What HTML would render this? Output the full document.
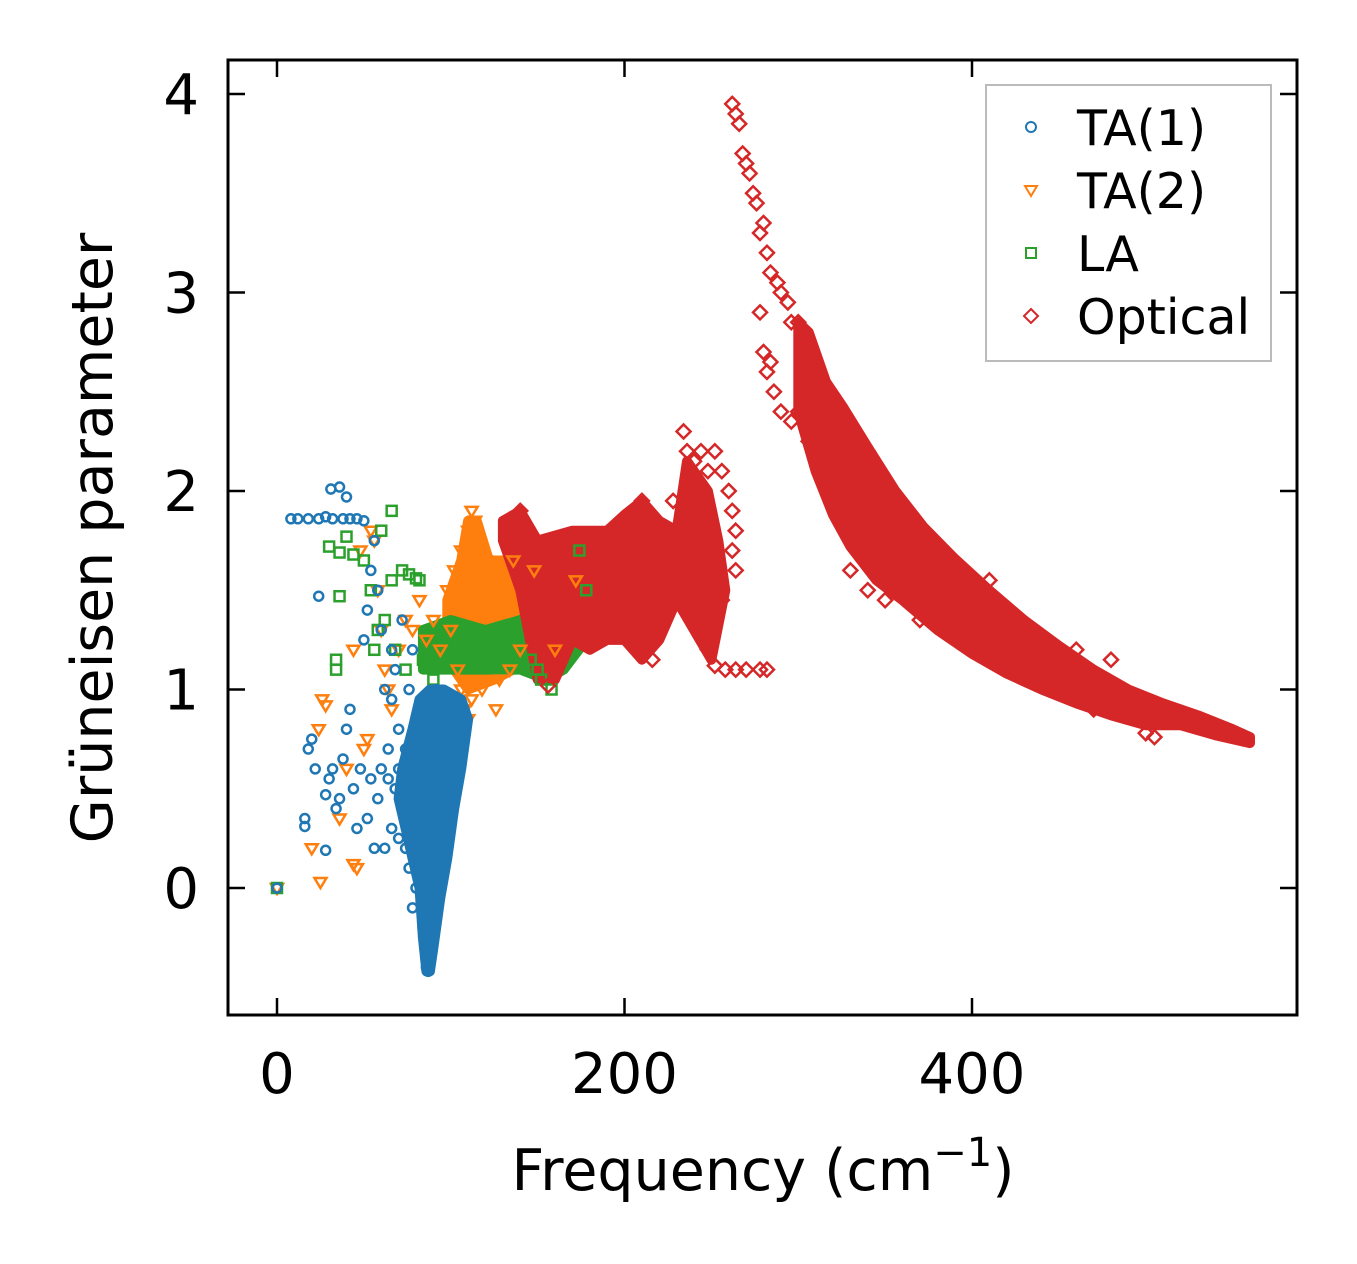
<!DOCTYPE html>
<html><head><meta charset="utf-8">
<style>
html,body{margin:0;padding:0;background:#fff;}
svg{display:block;font-family:"DejaVu Sans","Liberation Sans",sans-serif;}
</style></head>
<body>
<svg id="chart" width="1357" height="1264" viewBox="0 0 1357 1264">
<rect x="0" y="0" width="1357" height="1264" fill="#fff"/>
<g id="marks"></g>
<rect x="228" y="60" width="1069" height="955" fill="none" stroke="#000" stroke-width="3"/>
<g id="ticks"></g>
<text x="112" y="538" font-size="57" text-anchor="middle" transform="rotate(-90 112 538)">Grüneisen parameter</text>
<text x="763" y="1190" font-size="57" text-anchor="middle">Frequency (cm<tspan dy="-24" font-size="40">−1</tspan><tspan dy="24">)</tspan></text>
<g>
<rect x="986" y="85" width="285" height="276" fill="#fff" fill-opacity="0.8" stroke="#bbb" stroke-width="2"/>
<circle cx="1031" cy="127" r="5" fill="none" stroke="#1f77b4" stroke-width="2"/>
<text x="1077" y="145" font-size="49">TA(1)</text>
<path d="M1025,186 L1037,186 L1031,196 Z" fill="none" stroke="#ff7f0e" stroke-width="2"/>
<text x="1077" y="208" font-size="49">TA(2)</text>
<rect x="1026" y="248" width="10" height="10" fill="none" stroke="#2ca02c" stroke-width="2"/>
<text x="1077" y="271" font-size="49">LA</text>
<path d="M1031,309 L1038,316 L1031,323 L1024,316 Z" fill="none" stroke="#d62728" stroke-width="2"/>
<text x="1077" y="334" font-size="49">Optical</text>
</g>
</svg>
<script>
const xTicks=[0,200,400];
const yTicks=[0,1,2,3,4];
// dense-region envelopes (frequency / gamma)
const ta1Band=[[72,0.6],[78,0.8],[82,0.95],[88,1.0],[96,1.0],[106,0.95],[110,0.85],[106,0.6],[102,0.4],[98,0.15],[94,-0.05],[90,-0.3],[88,-0.42],[86,-0.42],[84,-0.25],[82,0.0],[78,0.15],[74,0.3],[70,0.45]];
const ta2Band=[[98,1.45],[106,1.65],[110,1.85],[115,1.85],[122,1.65],[135,1.65],[150,1.6],[165,1.55],[175,1.55],[175,1.35],[160,1.2],[140,1.12],[125,1.05],[110,1.0],[98,1.15]];
const laBand=[[84,1.3],[100,1.35],[120,1.3],[140,1.35],[160,1.45],[178,1.55],[178,1.25],[165,1.1],[155,1.05],[140,1.1],[120,1.1],[100,1.1],[84,1.1]];
const opt1Band=[[130,1.85],[140,1.9],[150,1.75],[170,1.8],[190,1.8],[200,1.88],[210,1.95],[220,1.85],[230,1.8],[236,2.15],[248,2.0],[254,1.75],[258,1.5],[250,1.15],[240,1.3],[230,1.45],[220,1.25],[210,1.15],[200,1.25],[190,1.25],[180,1.2],[170,1.25],[160,1.05],[150,1.05],[140,1.5],[130,1.75]];
const opt2Band=[[300,2.85],[306,2.8],[316,2.55],[326,2.42],[340,2.22],[356,2.0],[372,1.82],[390,1.66],[410,1.5],[430,1.35],[450,1.22],[470,1.1],[490,1.0],[510,0.93],[530,0.87],[550,0.8],[560,0.76],[560,0.73],[540,0.77],[520,0.82],[500,0.82],[480,0.87],[460,0.93],[440,1.0],[420,1.08],[400,1.18],[380,1.3],[360,1.45],[345,1.55],[330,1.72],[320,1.88],[310,2.1],[300,2.4]];
const ta1=[[0,0],[8,1.86],[12,1.86],[18,1.86],[24,1.86],[28,1.87],[32,1.86],[38,1.86],[42,1.86],[46,1.86],[50,1.85],[31,2.01],[36,2.02],[40,1.97],[24,1.47],[18,0.7],[20,0.75],[22,0.6],[16,0.35],[16,0.31],[28,0.19],[28,0.47],[30,0.55],[32,0.6],[34,0.4],[36,0.45],[38,0.65],[40,0.8],[42,0.9],[44,0.5],[46,0.3],[48,0.6],[50,1.25],[52,1.4],[54,1.6],[56,1.75],[58,1.5],[60,1.3],[62,1.0],[64,0.7],[66,1.2],[68,1.1],[70,0.6],[72,0.4],[74,0.2],[76,0.1],[78,-0.1],[80,0.0],
[86,-0.4],[87,-0.42],[88,-0.38],[85,-0.3],[89,-0.3],[84,-0.2],[90,-0.2],[91,-0.1],[83,0],[92,0],[82,0.1],[93,0.1],[81,0.2],[94,0.2],[80,0.3],[96,0.3],[79,0.4],[98,0.4],[78,0.5],[99,0.5],[101,0.6],[104,0.7],[106,0.8],[106,0.9],[92,1.0],[100,0.95],
[60,0.6],[64,0.55],[68,0.5],[72,0.45],[66,0.3],[70,0.25],[62,0.2],[56,0.2],[58,0.45],[54,0.55],[52,0.35],[76,0.55],[74,0.7],[70,0.8],[66,0.95],[72,1.35],[76,1.0],[78,1.2]];
const ta2=[[0,0],[25,0.03],[20,0.2],[26,0.95],[28,0.92],[24,0.8],[44,0.12],[46,0.1],[36,0.35],[40,0.6],[50,0.7],[52,0.75],[54,1.8],[56,1.75],[48,1.7],[44,1.2],[58,1.5],[60,1.3],[62,1.1],[64,1.0],[66,0.9],[70,1.2],[74,1.35],[78,1.3],[82,1.45],[86,1.25],[90,1.35],[94,1.2],[98,1.5],[100,1.3],[104,1.1],[106,1.0],[108,0.9],[110,0.85],[112,0.95],[118,1.0],[126,0.9],[128,1.05],
[102,1.6],[106,1.7],[110,1.8],[112,1.9],[114,1.85],[120,1.65],[136,1.65],[148,1.6],[172,1.55],[140,1.2],[160,1.2],[134,1.1]];
const la=[[0,0],[30,1.72],[36,1.69],[36,1.47],[40,1.77],[34,1.15],[34,1.1],[44,1.68],[50,1.65],[60,1.8],[66,1.9],[66,1.55],[72,1.6],[76,1.58],[80,1.56],[82,1.55],[54,1.5],[56,1.2],[58,1.3],[62,1.35],[68,1.2],[74,1.1],
[84,1.15],[90,1.05],[146,1.15],[150,1.1],[152,1.05],[174,1.7],[178,1.5],[158,1.0]];
const optical=[[134,1.85],[140,1.9],[210,1.95],[228,1.95],[234,2.3],[236,2.2],[240,2.15],[244,2.2],[248,2.1],[252,2.2],[256,2.1],[260,2.0],[262,1.9],[264,1.8],[262,1.7],[264,1.6],[256,1.45],[250,1.3],[248,1.2],[252,1.12],[258,1.1],[264,1.1],[270,1.1],[278,1.1],[282,1.1],[156,1.02],[216,1.15],
[262,3.95],[266,3.85],[264,3.9],[268,3.7],[270,3.65],[272,3.6],[274,3.5],[276,3.45],[278,3.3],[280,3.35],[282,3.2],[284,3.1],[288,3.05],[290,3.0],[294,2.95],[296,2.85],[300,2.85],
[278,2.9],[280,2.7],[284,2.65],[282,2.6],[286,2.5],[290,2.4],[296,2.35],[300,2.4],[306,2.25],
[330,1.6],[340,1.5],[400,1.5],[420,1.4],[460,1.2],[480,1.15],[505,0.76],[500,0.78],[350,1.45],[370,1.35],[390,1.3],[440,1.05],[470,0.9],[380,1.7],[410,1.55],[360,1.9],[340,2.2],[450,1.2]];

const NS='http://www.w3.org/2000/svg';
function sx(v){return 277+v*(972-277)/400;}
function sy(v){return 888-v*(888-94)/4;}
const marks=document.getElementById('marks');
function mk(tag,attrs){const e=document.createElementNS(NS,tag);for(const k in attrs)e.setAttribute(k,attrs[k]);return e;}
function drawBand(pts,color,name){
  const d=pts.map((p,i)=>(i?'L':'M')+sx(p[0]).toFixed(1)+','+sy(p[1]).toFixed(1)).join(' ')+' Z';
  const e=mk('path',{d:d,fill:color,stroke:color,'stroke-width':10,'stroke-linejoin':'round'});
  
  
  marks.appendChild(e);
}
function drawSeries(data,shape,color,name){
  const g=mk('g',{});
  
  
  data.forEach(p=>{
    const x=sx(p[0]),y=sy(p[1]);let e;
    if(shape==='circle') e=mk('circle',{cx:x,cy:y,r:4.5});
    else if(shape==='tri') e=mk('path',{d:`M${x-6},${y-4} L${x+6},${y-4} L${x},${y+6} Z`});
    else if(shape==='square') e=mk('rect',{x:x-5,y:y-5,width:10,height:10});
    else e=mk('path',{d:`M${x},${y-7} L${x+7},${y} L${x},${y+7} L${x-7},${y} Z`});
    e.setAttribute('fill','none');e.setAttribute('stroke',color);e.setAttribute('stroke-width','2.5');
    
    
    g.appendChild(e);
  });
  marks.appendChild(g);
}
drawBand(ta2Band,'#ff7f0e','ta2');
drawBand(laBand,'#2ca02c','la');
drawBand(opt1Band,'#d62728','optical-low');
drawBand(opt2Band,'#d62728','optical-high');
drawSeries(ta2,'tri','#ff7f0e','ta2');
drawSeries(la,'square','#2ca02c','la');
drawSeries(optical,'diamond','#d62728','optical');
drawBand(ta1Band,'#1f77b4','ta1');
drawSeries(ta1,'circle','#1f77b4','ta1');

const ticks=document.getElementById('ticks');
xTicks.forEach(v=>{
  const x=sx(v);
  const l1=mk('line',{x1:x,y1:1015,x2:x,y2:998,stroke:'#000','stroke-width':2.5});
  
  
  ticks.appendChild(l1);
  const l2=mk('line',{x1:x,y1:60,x2:x,y2:77,stroke:'#000','stroke-width':2.5});
  
  
  ticks.appendChild(l2);
  const t=mk('text',{x:x,y:1093,'font-size':56,'text-anchor':'middle'});
  t.textContent=v;
  
  
  ticks.appendChild(t);
});
yTicks.forEach(v=>{
  const y=sy(v);
  const l1=mk('line',{x1:228,y1:y,x2:245,y2:y,stroke:'#000','stroke-width':2.5});
  
  
  ticks.appendChild(l1);
  const l2=mk('line',{x1:1297,y1:y,x2:1280,y2:y,stroke:'#000','stroke-width':2.5});
  
  
  ticks.appendChild(l2);
  const t=mk('text',{x:199,y:y+20,'font-size':56,'text-anchor':'end'});
  t.textContent=v;
  
  
  ticks.appendChild(t);
});
</script>
</body></html>
